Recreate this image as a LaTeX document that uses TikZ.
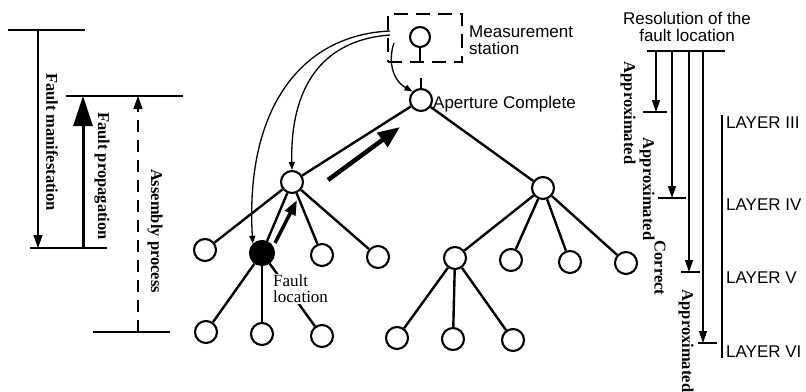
\documentclass[tikz,border=0pt]{standalone}
\usepackage{fontspec}
\setmainfont{Liberation Serif}
\newfontfamily\sansf{Liberation Sans}
\usetikzlibrary{arrows.meta}
\begin{document}
\begin{tikzpicture}[x=1pt,y=-1pt,
  tn/.style={circle,draw,line width=2.1pt,minimum size=22pt,inner sep=0pt,fill=white},
  fn/.style={tn,fill=black,minimum size=24pt},
  edge/.style={line width=2.4pt},
  rlab/.style={rotate=-90,font=\bfseries\fontsize{16.5}{18}\selectfont,inner sep=0pt},
  slab/.style={font=\sansf\fontsize{17}{17}\selectfont,inner sep=0pt},
  bar/.style={line width=1.8pt},
  thinarr/.style={line width=1.2pt,-{Triangle[length=12pt,width=8pt]}},
  curvarr/.style={line width=1.3pt,-{Triangle[length=8pt,width=6pt]}},
]
\useasboundingbox (0,0) rectangle (806,391);

% ---------- left scale ----------
\coordinate (h1a) at (8,30);   \coordinate (h1b) at (85,30);
\coordinate (h2a) at (66,96);  \coordinate (h2b) at (183,96);
\coordinate (h3a) at (30,248); \coordinate (h3b) at (107,248);
\coordinate (h4a) at (93,332); \coordinate (h4b) at (170,332);
\draw[bar] (h1a) -- (h1b);
\draw[bar] (h2a) -- (h2b);
\draw[bar] (h3a) -- (h3b);
\draw[bar] (h4a) -- (h4b);
\coordinate (m1) at (38,30);  \coordinate (m2) at (38,248);
\draw[line width=1.2pt,-{Triangle[length=13pt,width=9pt]}] (m1) -- (m2);
\coordinate (p1) at (83,248); \coordinate (p2) at (83,96);
\draw[line width=3pt,-{Triangle[length=30pt,width=19pt]}] (p1) -- (p2);
\coordinate (a1) at (138,332); \coordinate (a2) at (138,96);
\draw[line width=1.2pt,dash pattern=on 12pt off 8pt,-{Triangle[length=13pt,width=9pt]}] (a1) -- (a2);
\node[rlab] (fm) at (52,142) {Fault manifestation};
\node[rlab] (fp) at (102,176) {Fault propagation};
\node[rlab] (ap2) at (155,231) {Assembly process};

% ---------- tree ----------
\node[draw,dash pattern=on 14pt off 8pt,line width=1.8pt,minimum width=74pt,minimum height=48pt,inner sep=0pt] (box) at (425,38) {};
\node[tn,minimum size=20pt] (st) at (420,37) {};
\node[tn] (ap) at (421,100) {};
\node[tn] (L) at (292,182) {};
\node[tn] (R) at (543,188) {};
\node[tn] (c1) at (205,250) {};
\node[fn] (c2) at (262,253) {};
\node[tn] (c3) at (322,255) {};
\node[tn] (c4) at (378,257) {};
\node[tn] (g1) at (206,332) {};
\node[tn] (g2) at (262,334) {};
\node[tn] (g3) at (322,336) {};
\node[tn] (r1) at (455,258) {};
\node[tn] (r2) at (511,260) {};
\node[tn] (r3) at (570,262) {};
\node[tn] (r4) at (626,263) {};
\node[tn] (q1) at (397,338) {};
\node[tn] (q2) at (453,339) {};
\node[tn] (q3) at (513,340) {};

\draw[edge] (st.south) -- (st.south |- box.south);
\coordinate (tk) at (421,78);
\draw[edge] (tk) -- (ap.north);

\draw[edge] (ap) -- (L);
\draw[edge] (ap) -- (R);
\foreach \c in {c1,c2,c3,c4} \draw[edge] (L) -- (\c);
\foreach \c in {g1,g2,g3} \draw[edge] (c2) -- (\c);
\foreach \c in {r1,r2,r3,r4} \draw[edge] (R) -- (\c);
\foreach \c in {q1,q2,q3} \draw[edge] (r1) -- (\c);

\node[font=\fontsize{17}{16}\selectfont,fill=white,inner sep=1pt,align=left,anchor=north west] (flab) at (272,274) {Fault\\location};

\node[slab,anchor=west,align=left] (mlab) at (469,40) {Measurement\\station};
\node[slab,anchor=west] (alab) at (433,104) {Aperture Complete};

\coordinate (o1) at (390,31);
\coordinate (o2) at (390,35);
\coordinate (o3) at (394,43);
\draw[curvarr] (o1) .. controls (300,35) and (245,110) .. (c2.north west);
\draw[curvarr] (o2) .. controls (320,40) and (290,90) .. (L.north);
\draw[curvarr] (o3) .. controls (388,60) and (392,80) .. (ap.north west);

\coordinate (ba1) at (328,180); \coordinate (ba2) at (400,127);
\draw[line width=4.5pt,-{Triangle[length=22pt,width=17pt]}] (ba1) -- (ba2);
\coordinate (sa1) at (275,243); \coordinate (sa2) at (297,200);
\draw[line width=3.5pt,-{Triangle[length=15pt,width=11pt]}] (sa1) -- (sa2);

% ---------- right scale ----------
\node[font=\sansf\fontsize{17}{16.5}\selectfont,inner sep=0pt,align=center] (res) at (687,27) {Resolution of the\\fault location};
\coordinate (t1) at (647,51); \coordinate (t2) at (725,51);
\draw[bar] (t1) -- (t2);
\coordinate (e1) at (656,112); \coordinate (e2) at (672,198);
\coordinate (e3) at (689,272); \coordinate (e4) at (703,343);
\draw[thinarr] (e1 |- t1) -- (e1);
\draw[thinarr] (e2 |- t1) -- (e2);
\draw[thinarr] (e3 |- t1) -- (e3);
\draw[thinarr] (e4 |- t1) -- (e4);
\draw[bar] (643,112) -- (667,112);
\draw[bar] (658,198) -- (686,198);
\draw[bar] (681,272) -- (700,272);
\draw[bar] (698,343) -- (717,343);
\coordinate (v1) at (722,115); \coordinate (v2) at (722,358);
\draw[line width=2.2pt] (v1) -- (v2);
\node[slab,anchor=west] (l3) at (726,123) {LAYER III};
\node[slab,anchor=west] (l4) at (726,205) {LAYER IV};
\node[slab,anchor=west] (l5) at (726,278) {LAYER V};
\node[slab,anchor=west] (l6) at (726,352) {LAYER VI};
\node[rlab] (ax1) at (628,113) {Approximated};
\node[rlab] (ax2) at (647,189) {Approximated};
\node[rlab] (cx) at (660,268) {Correct};
\node[rlab] (ax3) at (686,341) {Approximated};
\end{tikzpicture}
\end{document}
